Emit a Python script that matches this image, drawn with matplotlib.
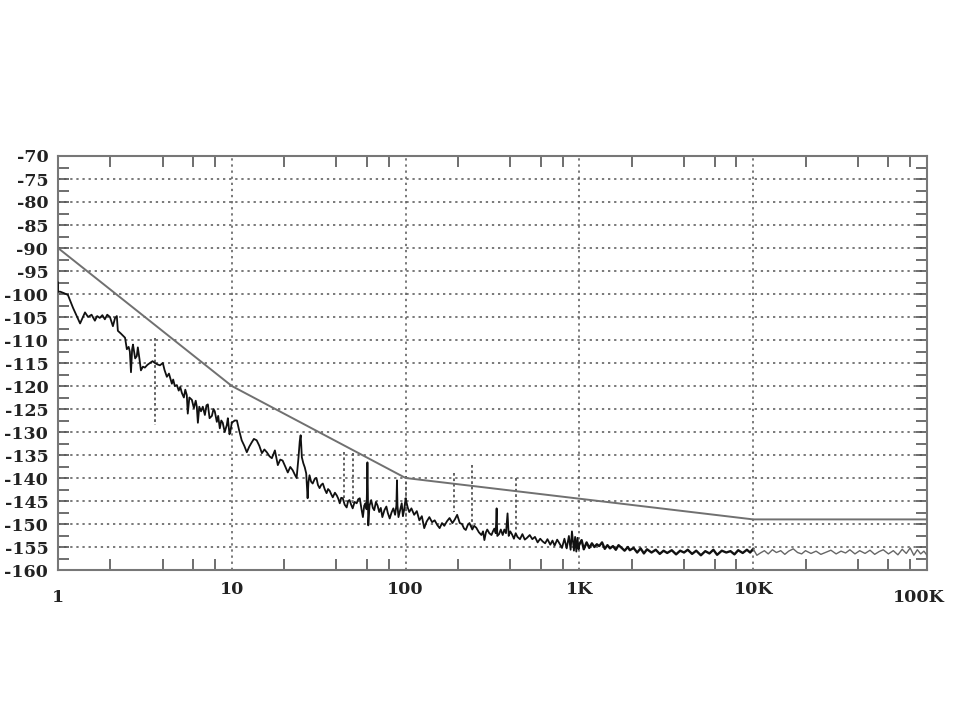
import numpy as np
import matplotlib
matplotlib.use("Agg")
import matplotlib.pyplot as plt
from matplotlib.ticker import FixedLocator, NullFormatter
import matplotlib.transforms as mtransforms

# ---------------- data ----------------
# limit (mask) line
mask_f = [1, 10, 100, 10000, 100000]
mask_db = [-90, -120, -140, -149, -149]

# measured trace 1 Hz - 10 Hz
f_seg1 = [1.0, 1.0, 1.03, 1.08, 1.14, 1.22, 1.34, 1.43, 1.49, 1.56, 1.63, 1.68, 1.74, 1.80, 1.86,
          1.92, 1.99, 2.07, 2.13, 2.18, 2.21, 2.30, 2.43, 2.49, 2.55, 2.59, 2.63, 2.67, 2.70, 2.78,
          2.84, 2.88, 2.94, 3.00, 3.08, 3.16, 3.27, 3.38, 3.50, 3.61, 3.73, 3.86, 4.01, 4.10, 4.23,
          4.35, 4.52, 4.60, 4.70, 4.83, 4.95, 5.05, 5.16, 5.30, 5.40, 5.51, 5.58, 5.70, 5.89, 6.05,
          6.20, 6.29, 6.38, 6.50, 6.65, 6.81, 7.00, 7.15, 7.28, 7.45, 7.68, 7.85, 7.98, 8.20, 8.35,
          8.53, 8.70, 8.87, 9.10, 9.36, 9.49, 9.70, 9.85, 10.0]
db_seg1 = [-97.5, -99.5, -99.5, -99.8, -100.2, -103.0, -106.4, -104.0, -105.0, -104.5, -105.8, -104.8,
           -105.2, -104.6, -105.5, -104.5, -105.0, -107.0, -105.2, -104.8, -108.0, -108.6, -109.5,
           -112.0, -111.5, -112.5, -117.0, -112.0, -111.0, -114.0, -113.5, -111.6, -114.0, -116.6,
           -115.8, -116.0, -115.4, -115.0, -114.6, -115.0, -115.3, -115.5, -115.0, -116.5, -118.0,
           -117.3, -119.5, -118.6, -120.0, -119.8, -121.0, -120.2, -121.5, -122.5, -120.8, -122.0,
           -126.0, -122.5, -123.0, -124.8, -123.2, -124.5, -128.0, -124.5, -125.5, -124.5, -126.3,
           -124.2, -124.0, -127.0, -126.5, -125.0, -125.5, -127.8, -126.5, -129.2, -127.5, -128.0,
           -130.0, -128.5, -127.0, -130.5, -129.5, -128.0]

# measured trace 10 Hz - 100 Hz
f_seg2 = [10.0, 10.4, 10.7, 11.0, 11.4, 11.8, 12.2, 12.6, 13.0, 13.4, 13.9, 14.4, 14.9, 15.4, 15.9,
          16.5, 17.0, 17.7, 18.4, 19.0, 19.6, 20.3, 21.0, 21.7, 22.4, 23.0, 23.6, 24.2, 24.6, 24.9,
          25.1, 25.3, 25.8, 26.3, 26.8, 27.3, 27.6, 28.0, 28.6, 29.2, 30.0, 30.7, 31.3, 32.0, 32.7,
          33.4, 34.3, 35.1, 35.8, 36.6, 37.3, 38.1, 39.2, 40.2, 41.0, 41.8, 42.6, 43.5, 44.6, 45.8,
          46.7, 47.6, 48.6, 49.6, 50.9, 52.3, 53.4, 54.5, 55.6, 56.8, 57.8, 58.8, 59.6, 60.0, 60.3,
          60.6, 61.0, 62.0, 63.4, 64.8, 66.0, 67.5, 69.0, 70.5, 72.0, 73.5, 75.5, 77.5, 79.0, 81.0,
          83.0, 85.0, 87.0, 88.5, 89.2, 89.8, 91.0, 93.0, 95.0, 96.5, 98.0, 100.0]
db_seg2 = [-128.0, -127.5, -127.5, -129.5, -131.8, -133.0, -134.4, -133.2, -132.3, -131.5, -131.8,
           -133.0, -134.6, -133.8, -134.4, -135.3, -135.7, -134.0, -137.2, -136.0, -136.2, -137.5,
           -138.8, -137.6, -138.3, -139.2, -140.0, -135.5, -132.0, -130.7, -133.0, -135.5, -136.8,
           -137.7, -139.0, -144.4, -141.0, -139.4, -140.8, -141.2, -140.2, -140.0, -141.5, -142.2,
           -141.5, -141.2, -142.5, -143.3, -142.4, -142.8, -143.5, -144.2, -143.2, -143.8, -144.5,
           -145.5, -144.3, -144.4, -145.8, -146.4, -145.0, -144.8, -145.8, -146.6, -145.2, -145.5,
           -144.6, -144.4, -146.5, -148.5, -146.0, -145.5, -146.8, -142.0, -136.6, -142.0, -150.3,
           -146.0, -144.8, -146.5, -147.0, -145.2, -146.0, -147.4, -146.5, -148.5, -147.0, -146.2,
           -147.6, -148.8, -147.5, -146.6, -148.0, -146.0, -140.5, -146.0, -148.5, -147.0, -145.5,
           -148.3, -147.0, -144.5]

# measured trace 100 Hz - 1 kHz
f_seg3 = [100, 103, 105, 108, 112, 116, 120, 124, 128, 132, 137, 142, 147, 152, 157, 162, 167, 173,
          179, 186, 192, 198, 205, 211, 217, 222, 228, 233, 242, 248, 255, 264, 273, 279, 284, 290,
          295, 303, 312, 318, 324, 330, 334, 337, 345, 353, 362, 370, 378, 386, 392, 400, 410, 420,
          430, 440, 455, 470, 485, 500, 518, 536, 555, 575, 595, 615, 635, 655, 680, 700, 720, 745,
          770, 794, 820, 845, 870, 890, 906, 930, 945, 960, 975, 990, 1000]
db_seg3 = [-144.5, -146.5, -147.4, -146.6, -148.0, -147.2, -149.2, -148.3, -150.9, -149.5, -148.5,
           -149.6, -149.2, -150.2, -150.9, -149.8, -150.4, -149.4, -148.7, -149.8, -149.0, -148.0,
           -149.8, -150.0, -151.0, -151.3, -150.2, -149.8, -151.2, -150.4, -150.8, -151.8, -152.4,
           -151.6, -153.5, -151.8, -151.2, -152.0, -152.4, -151.6, -151.0, -152.0, -146.6, -152.6,
           -152.2, -151.2, -152.4, -151.2, -152.0, -147.7, -152.6, -151.6, -152.3, -153.2, -152.0,
           -152.8, -153.3, -152.2, -153.4, -153.0, -152.4, -153.3, -152.8, -154.0, -153.2, -153.8,
           -154.2, -153.3, -154.5, -153.6, -154.7, -153.4, -154.3, -155.2, -153.2, -155.3, -152.6,
           -155.6, -151.6, -155.8, -152.8, -156.0, -153.0, -155.5, -154.4]

# measured trace 1 kHz - 10 kHz
f_seg4 = [1000, 1030, 1060, 1100, 1140, 1180, 1220, 1260, 1300, 1350, 1400, 1450, 1500, 1560, 1620,
          1680, 1750, 1820, 1900, 1950, 2050, 2150, 2250, 2350, 2450, 2600, 2750, 2900, 3050, 3200,
          3400, 3600, 3800, 4000, 4200, 4450, 4700, 5000, 5300, 5600, 5900, 6200, 6600, 7000, 7400,
          7800, 8200, 8700, 9200, 9600, 10000]
db_seg4 = [-154.4, -153.5, -155.5, -154.0, -155.2, -154.2, -155.0, -154.4, -154.8, -154.0, -155.4,
           -154.6, -155.3, -154.8, -155.6, -154.6, -155.2, -155.8, -155.0, -155.7, -155.2, -156.2,
           -155.3, -156.4, -155.5, -156.2, -155.6, -156.5, -155.8, -156.3, -155.7, -156.6, -155.8,
           -156.2, -155.6, -156.5, -155.8, -156.8, -155.9, -156.4, -155.6, -156.7, -155.8, -156.2,
           -155.9, -156.6, -155.7, -156.3, -155.6, -156.2, -155.4]

# measured trace 10 kHz - 100 kHz (lighter)
f_seg5 = [10000, 10500, 11000, 11600, 12200, 12900, 13600, 14400, 15200, 16000, 17000, 18000, 19000,
          20000, 21500, 23000, 24500, 26000, 28000, 30000, 32000, 34000, 36000, 38500, 41000, 44000,
          47000, 50000, 53000, 56000, 60000, 64000, 68000, 72000, 76000, 80000, 84000, 88000, 92000,
          96000, 100000]
db_seg5 = [-155.4, -156.8, -156.3, -155.8, -156.5, -155.6, -156.2, -155.8, -156.6, -155.9, -155.4,
           -156.2, -156.5, -155.8, -156.4, -155.9, -156.6, -156.2, -155.7, -156.5, -155.9, -156.3,
           -155.6, -156.5, -155.8, -156.4, -155.7, -156.6, -156.0, -155.6, -156.5, -155.8, -156.7,
           -155.5, -156.4, -155.2, -156.8, -155.6, -156.5, -155.9, -156.8]

# spurs (dotted vertical)
spur_f = [3.62, 44, 49.6, 101, 191, 242, 433]
spur_top = [-109.5, -134.4, -134.6, -139.5, -139.0, -137.2, -140.0]
spur_bot = [-128.5, -145.0, -145.5, -148.5, -147.4, -150.7, -151.8]

x_tick_vals = [1, 10, 100, 1000, 10000, 100000]
x_tick_labels = ["1", "10", "100", "1K", "10K", "100K"]
y_tick_vals = [-70, -75, -80, -85, -90, -95, -100, -105, -110, -115, -120, -125, -130,
               -135, -140, -145, -150, -155, -160]

# ---------------- plot ----------------
fig = plt.figure(figsize=(9.6, 7.2), dpi=100)
ax = fig.add_axes([58 / 960, 1 - 570 / 720, (927 - 58) / 960, (570 - 156) / 720])
ax.set_xscale("log")
ax.set_xlim(1, 100000)
ax.set_ylim(-160, -70)

grid_kw = dict(color="#555555", lw=1.1, linestyle=(0, (1.5, 2.5)), zorder=1)
for v in y_tick_vals[1:-1]:
    ax.axhline(v, **grid_kw)
for v in x_tick_vals[1:-1]:
    ax.axvline(v, **grid_kw)

ax.plot(mask_f, mask_db, color="#707070", lw=1.4, zorder=3)

for f0, t, b in zip(spur_f, spur_top, spur_bot):
    ax.plot([f0, f0], [t, b], color="#555555", lw=1.3, linestyle=(0, (1.5, 1.5)), zorder=2)

trace_kw = dict(color="#111111", lw=1.3, zorder=4)
ax.plot(f_seg1, db_seg1, **trace_kw)
ax.plot(f_seg2, db_seg2, **trace_kw)
ax.plot(f_seg3, db_seg3, **trace_kw)
ax.plot(f_seg4, db_seg4, color="#111111", lw=1.7, zorder=4)
ax.plot(f_seg5, db_seg5, color="#666666", lw=1.0, zorder=4)

for s in ax.spines.values():
    s.set_color("#777777")
    s.set_linewidth(1.5)

# ticks
minor_x = [m * 10 ** d for d in range(5) for m in (2, 4, 6, 8)]
ax.xaxis.set_major_locator(FixedLocator([]))
ax.xaxis.set_minor_locator(FixedLocator(minor_x))
ax.xaxis.set_minor_formatter(NullFormatter())
ax.tick_params(axis="x", which="minor", direction="in", length=8, width=1.2, color="#555555",
               top=True, bottom=True)

ax.set_yticks(y_tick_vals)
ax.set_yticklabels([str(v) for v in y_tick_vals])
ax.yaxis.set_minor_locator(FixedLocator(np.arange(-157.5, -70, 5.0)))
ax.tick_params(axis="y", which="both", direction="in", length=8, width=1.2, color="#555555",
               left=True, right=True, pad=7, labelsize=12.5)
for lab in ax.get_yticklabels():
    lab.set_fontfamily("DejaVu Serif")
    lab.set_fontweight("bold")
    lab.set_color("#222222")

trans = mtransforms.blended_transform_factory(ax.transData, fig.transFigure)
for v, lab in zip(x_tick_vals, x_tick_labels):
    ypos = 1 - 598 / 720 if lab in ("1", "100K") else 1 - 590 / 720
    xo = v
    if lab == "100K":
        xo = v / 10 ** (8 / 174)
    ax.text(xo, ypos, lab, transform=trans, ha="center", va="center", fontsize=12.5,
            fontfamily="DejaVu Serif", fontweight="bold", color="#222222", clip_on=False)

fig.savefig("out.png", dpi=100)
